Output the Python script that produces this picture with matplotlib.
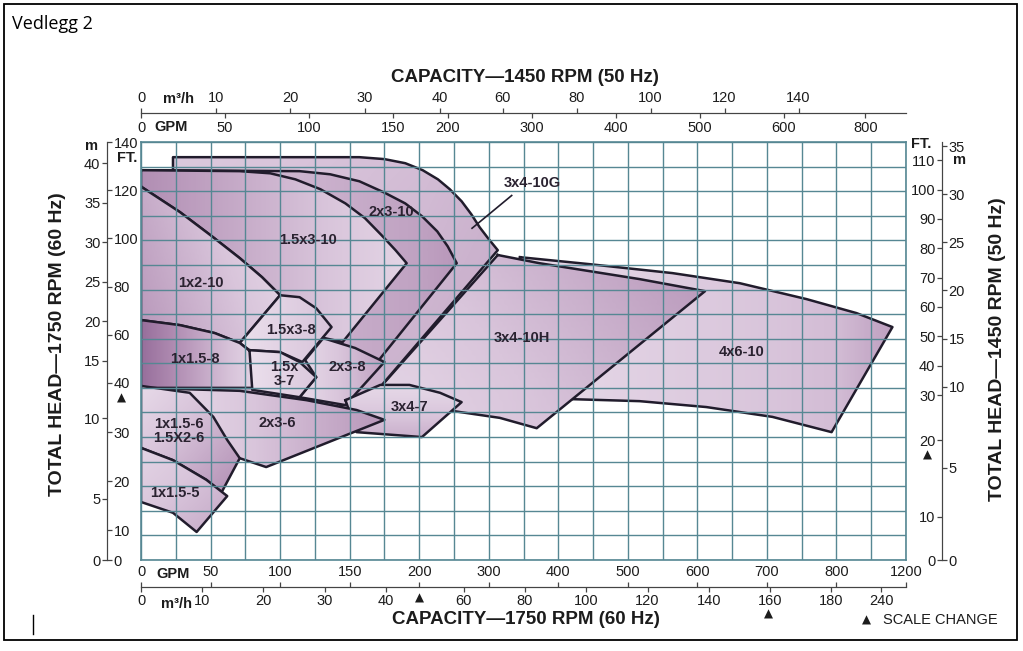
import numpy as np
import matplotlib
matplotlib.use("Agg")
import matplotlib.pyplot as plt
from matplotlib.patches import Polygon, Rectangle
from matplotlib.lines import Line2D
from matplotlib.colors import LinearSegmentedColormap

plt.rcParams['font.family'] = ['Liberation Sans', 'DejaVu Sans']

# ---- pump coverage areas (60 Hz: GPM, feet) ----
r4x6_10_gpm = [345, 445, 564, 661, 757, 915, 1122, 793, 708, 613, 517, 421, 345]
r4x6_10_ft = [92.2, 89.3, 85.6, 81.4, 74.8, 69.0, 63.2, 30.0, 33.1, 35.1, 36.3, 36.7, 36.7]

r3x4_10h_gpm = [313, 373, 445, 517, 611, 369, 316, 258, 165]
r3x4_10h_ft = [93.1, 89.7, 86.4, 83.1, 78.1, 30.8, 32.9, 34.1, 36.9]

r3x4_10g_gpm = [23, 23, 157, 175, 190, 205, 227, 244, 261, 275, 287, 300, 313, 165, 155, 23]
r3x4_10g_ft = [128.3, 133.7, 133.7, 132.9, 131.2, 128.3, 124.5, 120.4, 115.4, 110.0, 104.6,
               99.7, 95.1, 36.9, 34.1, 31.4]

r2x3_10_gpm = [0, 114, 136, 157, 175, 190, 204, 226, 241, 254, 145, 114, 0]
r2x3_10_ft = [128.3, 127.9, 126.6, 123.7, 119.0, 114.5, 109.2, 102.9, 96.7, 89.7, 35.5, 31.4, 31.4]

r15x3_10_gpm = [0, 71, 93, 111, 129, 147, 161, 173, 183, 191, 145, 132, 114, 100, 87, 71, 50,
                28, 0]
r15x3_10_ft = [128.3, 127.9, 127.0, 124.5, 120.4, 114.5, 108.4, 101.3, 95.1, 89.7, 57.0, 58.6,
               66.1, 76.4, 83.9, 91.8, 101.3, 110.9, 121.5]

r1x2_10_gpm = [0, 28, 50, 71, 87, 100, 71, 53, 28, 0]
r1x2_10_ft = [121.5, 110.9, 101.3, 91.8, 83.9, 76.4, 56.6, 60.7, 64.0, 66.1]

r15x3_8_gpm = [100, 114, 126, 137, 116, 100, 78, 71]
r15x3_8_ft = [76.4, 75.6, 71.0, 63.2, 48.7, 52.8, 53.6, 56.6]

r2x3_8_gpm = [131, 154, 175, 147, 114, 126, 118]
r2x3_8_ft = [58.6, 54.5, 48.7, 35.5, 37.1, 42.4, 49.5]

r1x15_8_gpm = [0, 28, 53, 71, 89, 80, 0]
r1x15_8_ft = [66.1, 64.0, 60.7, 56.6, 48.3, 39.0, 39.0]

r15x3_7_gpm = [78, 100, 114, 126, 114, 80]
r15x3_7_ft = [53.6, 52.8, 48.7, 42.4, 37.1, 38.6]

r3x4_7_gpm = [147, 172, 193, 230, 261, 204, 155]
r3x4_7_ft = [36.5, 39.6, 39.6, 38.0, 36.1, 29.0, 30.0]

r2x3_6_gpm = [0, 71, 119, 155, 175, 90, 71, 0]
r2x3_6_ft = [39.0, 38.4, 36.5, 34.5, 32.5, 22.9, 24.7, 26.8]

r1x15_6_gpm = [0, 35, 52, 62, 71, 58, 47, 23, 0]
r1x15_6_ft = [39.4, 38.0, 33.1, 28.4, 24.7, 17.8, 20.3, 24.3, 26.8]

r1x15_5_gpm = [0, 23, 47, 62, 40, 23, 0]
r1x15_5_ft = [26.8, 24.3, 20.3, 17.0, 9.5, 13.6, 15.8]

label_text = ['3x4-10G', '2x3-10', '1.5x3-10', '1x2-10', '1.5x3-8', '1x1.5-8', '1.5x\n3-7',
              '2x3-8', '3x4-7', '2x3-6', '1x1.5-6\n1.5X2-6', '1x1.5-5', '3x4-10H', '4x6-10']
label_gpm = [362, 180, 120, 43, 108, 39, 103, 148, 193, 98, 27, 24, 347, 664]
label_ft = [122.8, 110.9, 99.3, 81.4, 61.9, 50.0, 43.7, 46.7, 35.1, 31.9, 30.2, 17.6, 58.6, 52.8]

leader_gpm = [333, 276]
leader_ft = [117.8, 104.2]

# ---- scales (the chart uses broken scales; nodes) ----
gpm_nodes = [0, 200, 800, 1200]
gpm_cells = [0, 8, 20, 22]
ft_nodes = [0, 10, 40, 140]
ft_cells = [0, 1.2, 7.2, 17.0]
ft50_nodes = [0, 10, 20, 30, 110]
ft50_cells = [0, 1.75, 4.88, 6.71, 16.26]
m3h50_nodes = [0, 30, 40, 60, 140]
m3h50_cells = [0, 6.44, 8.59, 10.40, 18.91]

GPM_PER_M3H = 4.403
FT_PER_M = 3.281
SPEED = 1450 / 1750

bottom_gpm_ticks = [0, 50, 100, 150, 200, 300, 400, 500, 600, 700, 800, 1200]
bottom_m3h_ticks = [0, 10, 20, 30, 40, 60, 80, 100, 120, 140, 160, 180, 240]
top_gpm_ticks = [0, 50, 100, 150, 200, 300, 400, 500, 600, 800]
top_m3h_ticks = [0, 10, 20, 30, 40, 60, 80, 100, 120, 140]
left_m_ticks = [0, 5, 10, 15, 20, 25, 30, 35, 40]
left_ft_ticks = [0, 10, 20, 30, 40, 60, 80, 100, 120, 140]
right_ft_ticks = [0, 10, 20, 30, 40, 50, 60, 70, 80, 90, 100, 110]
right_m_ticks = [0, 5, 10, 15, 20, 25, 30, 35]


def piecewise(xp, fp):
    xp = np.asarray(xp, float)
    fp = np.asarray(fp, float)
    s0 = (fp[1] - fp[0]) / (xp[1] - xp[0])
    s1 = (fp[-1] - fp[-2]) / (xp[-1] - xp[-2])

    def f(v):
        v = np.asarray(v, float)
        out = np.interp(v, xp, fp)
        out = np.where(v < xp[0], fp[0] + (v - xp[0]) * s0, out)
        out = np.where(v > xp[-1], fp[-1] + (v - xp[-1]) * s1, out)
        return out
    return f


def scale_pair(nodes, cells, k=1.0):
    fw = piecewise(nodes, cells)
    bw = piecewise(cells, nodes)
    return (lambda v: fw(np.asarray(v, float) * k)), (lambda c: bw(c) / k)


W, H = 1023, 651
L, R, T, B = 141, 906, 142, 560
GRID = '#568793'
EDGE = '#211c2c'
INK = '#1c1c1c'
TICKSIZE = 10.5


def fx(px):
    return px / W


def fy(py):
    return 1 - py / H


fig = plt.figure(figsize=(W / 100, H / 100), dpi=100)
fig.patch.set_facecolor('white')

ax = fig.add_axes([fx(L), fy(B), fx(R) - fx(L), fy(T) - fy(B)])
ax.set_xscale('function', functions=scale_pair(gpm_nodes, gpm_cells))
ax.set_yscale('function', functions=scale_pair(ft_nodes, ft_cells))

cmap = LinearSegmentedColormap.from_list(
    'lilac', ['#f2eaf3', '#d9c5db', '#b08cb2', '#84588a'])

regions = [
    ('4x6-10', r4x6_10_gpm, r4x6_10_ft),
    ('3x4-10H', r3x4_10h_gpm, r3x4_10h_ft),
    ('3x4-10G', r3x4_10g_gpm, r3x4_10g_ft),
    ('2x3-10', r2x3_10_gpm, r2x3_10_ft),
    ('1.5x3-10', r15x3_10_gpm, r15x3_10_ft),
    ('1x2-10', r1x2_10_gpm, r1x2_10_ft),
    ('1.5x3-8', r15x3_8_gpm, r15x3_8_ft),
    ('2x3-8', r2x3_8_gpm, r2x3_8_ft),
    ('1x1.5-8', r1x15_8_gpm, r1x15_8_ft),
    ('1.5x3-7', r15x3_7_gpm, r15x3_7_ft),
    ('3x4-7', r3x4_7_gpm, r3x4_7_ft),
    ('2x3-6', r2x3_6_gpm, r2x3_6_ft),
    ('1x1.5-6', r1x15_6_gpm, r1x15_6_ft),
    ('1x1.5-5', r1x15_5_gpm, r1x15_5_ft),
]
# shading of each area: gradient angle, light end, dark end
shading = [(0, 0.15, 0.55), (20, 0.2, 0.6), (-30, 0.3, 0.5), (0, 0.3, 0.6),
           (180, 0.2, 0.65), (200, 0.15, 0.6), (0, 0.1, 0.35), (0, 0.15, 0.55),
           (180, 0.15, 0.85), (0, 0.1, 0.3), (-90, 0.15, 0.45), (0, 0.1, 0.6),
           (-45, 0.15, 0.65), (-45, 0.2, 0.5)]

uu, vv = np.meshgrid(np.linspace(0, 1, 80), np.linspace(0, 1, 80))
for i, ((name, gx, gy), (ang, lo, hi)) in enumerate(zip(regions, shading)):
    z = 1 + 0.1 * i
    patch = Polygon(np.column_stack([gx, gy]), closed=True, transform=ax.transData,
                    fc='none', ec='none', zorder=z)
    ax.add_patch(patch)
    a = np.deg2rad(ang)
    d = np.cos(a) * uu + np.sin(a) * vv
    d = (d - d.min()) / (d.max() - d.min())
    im = ax.imshow(lo + (hi - lo) * d, cmap=cmap, vmin=0, vmax=1, origin='lower',
                   extent=(min(gx), max(gx), min(gy), max(gy)), aspect='auto',
                   interpolation='bilinear', zorder=z)
    im.set_clip_path(patch)
    ax.plot(list(gx) + [gx[0]], list(gy) + [gy[0]], color=EDGE, lw=1.8,
            solid_joinstyle='round', zorder=z + 0.05)

for txt, gx, gy in zip(label_text, label_gpm, label_ft):
    ax.text(gx, gy, txt, ha='center', va='center', fontsize=10.5, fontweight='bold',
            color='#2a2230', linespacing=1.0, zorder=5)
ax.plot(leader_gpm, leader_ft, color=EDGE, lw=1.2, zorder=5)

# grid: one cell per 25/50/200 GPM and per scale step in feet
ax.set_xticks(piecewise(gpm_cells, gpm_nodes)(np.arange(23)))
ax.set_yticks(piecewise(ft_cells, ft_nodes)(np.arange(18)))
ax.tick_params(length=0, labelbottom=False, labelleft=False)
ax.grid(True, color=GRID, lw=1.0)
ax.set_axisbelow(False)
for s in ax.spines.values():
    s.set_color(GRID)
    s.set_linewidth(1.2)
ax.set_xlim(0, 1200)
ax.set_ylim(0, 140)


def scale_x(py, nodes, cells, k, ticks, side, pad):
    a = fig.add_axes([fx(L), fy(py), fx(R) - fx(L), 1e-5])
    fw, bw = scale_pair(nodes, cells, k)
    a.set_xscale('function', functions=(fw, bw))
    a.set_xlim(float(bw(0)), float(bw(22)))
    a.set_xticks(ticks, [str(t) for t in ticks])
    a.xaxis.set_ticks_position(side)
    a.yaxis.set_visible(False)
    a.patch.set_visible(False)
    for s in a.spines.values():
        s.set_visible(False)
    a.spines[side].set_visible(True)
    a.spines[side].set_color('#444444')
    a.tick_params(axis='x', direction='out', length=3.5, width=0.9, pad=pad,
                  labelsize=TICKSIZE, color='#444444', labelcolor=INK)
    return a


def scale_y(px, nodes, cells, k, ticks, side, pad):
    a = fig.add_axes([fx(px), fy(B), 1e-5, fy(T) - fy(B)])
    fw, bw = scale_pair(nodes, cells, k)
    a.set_yscale('function', functions=(fw, bw))
    a.set_ylim(float(bw(0)), float(bw(17)))
    a.set_yticks(ticks, [str(t) for t in ticks])
    a.yaxis.set_ticks_position(side)
    a.xaxis.set_visible(False)
    a.patch.set_visible(False)
    for s in a.spines.values():
        s.set_visible(False)
    a.spines[side].set_visible(True)
    a.spines[side].set_color('#444444')
    a.tick_params(axis='y', direction='out', length=3.5, width=0.9, pad=pad,
                  labelsize=TICKSIZE, color='#444444', labelcolor=INK)
    return a


# top: 50 Hz capacity
scale_x(113, m3h50_nodes, m3h50_cells, 1.0, top_m3h_ticks, 'top', 2.5)
scale_x(113, gpm_nodes, gpm_cells, 1 / SPEED, top_gpm_ticks, 'bottom', 2.5)
# bottom: 60 Hz capacity
scale_x(587, gpm_nodes, gpm_cells, 1.0, bottom_gpm_ticks, 'top', 2.5)
scale_x(587, gpm_nodes, gpm_cells, GPM_PER_M3H, bottom_m3h_ticks, 'bottom', 1.5)
# left: 60 Hz head
scale_y(107, ft_nodes, ft_cells, FT_PER_M, left_m_ticks, 'left', 1.2)
scale_y(107, ft_nodes, ft_cells, 1.0, left_ft_ticks, 'right', 1.2)
# right: 50 Hz head
scale_y(942, ft50_nodes, ft50_cells, 1.0, right_ft_ticks, 'left', 1.2)
scale_y(942, ft50_nodes, ft50_cells, FT_PER_M, right_m_ticks, 'right', 1.2)

bold = dict(fontweight='bold', color=INK, ha='center', va='center')
fig.text(fx(178), fy(99), 'm³/h', fontsize=10.5, **bold)
fig.text(fx(171), fy(127), 'GPM', fontsize=10.5, **bold)
fig.text(fx(173), fy(574), 'GPM', fontsize=10.5, **bold)
fig.text(fx(176), fy(604), 'm³/h', fontsize=10.5, **bold)
fig.text(fx(91), fy(146), 'm', fontsize=10.5, **bold)
fig.text(fx(127), fy(158), 'FT.', fontsize=10.5, **bold)
fig.text(fx(921), fy(144), 'FT.', fontsize=10.5, **bold)
fig.text(fx(959), fy(160), 'm', fontsize=10.5, **bold)

fig.text(fx(525), fy(78), 'CAPACITY—1450 RPM (50 Hz)', fontsize=13.5, **bold)
fig.text(fx(526), fy(620), 'CAPACITY—1750 RPM (60 Hz)', fontsize=13.5, **bold)
fig.text(fx(58), fy(344), 'TOTAL HEAD—1750 RPM (60 Hz)', fontsize=14, rotation=90, **bold)
fig.text(fx(997), fy(349), 'TOTAL HEAD—1450 RPM (50 Hz)', fontsize=14, rotation=90, **bold)

# scale-change markers
for tx, ty in [(121, 398), (927, 455), (419, 598), (768, 614), (866, 620)]:
    fig.text(fx(tx), fy(ty), '▲', fontsize=8.5, family='DejaVu Sans', color=INK,
             ha='center', va='center')
fig.text(fx(883), fy(620), 'SCALE CHANGE', fontsize=10.5, color=INK, ha='left', va='center')

fig.text(fx(12), fy(24), 'Vedlegg 2', fontsize=13, family='Open Sans', color='black',
         ha='left', va='center')
fig.add_artist(Rectangle((fx(4), fy(640)), fx(1017) - fx(4), fy(4) - fy(640),
                         transform=fig.transFigure, fill=False, ec='black', lw=1.3))
fig.add_artist(Line2D([fx(33), fx(33)], [fy(615), fy(634)], transform=fig.transFigure,
                      color='black', lw=1))

fig.savefig('out.png', dpi=100)
